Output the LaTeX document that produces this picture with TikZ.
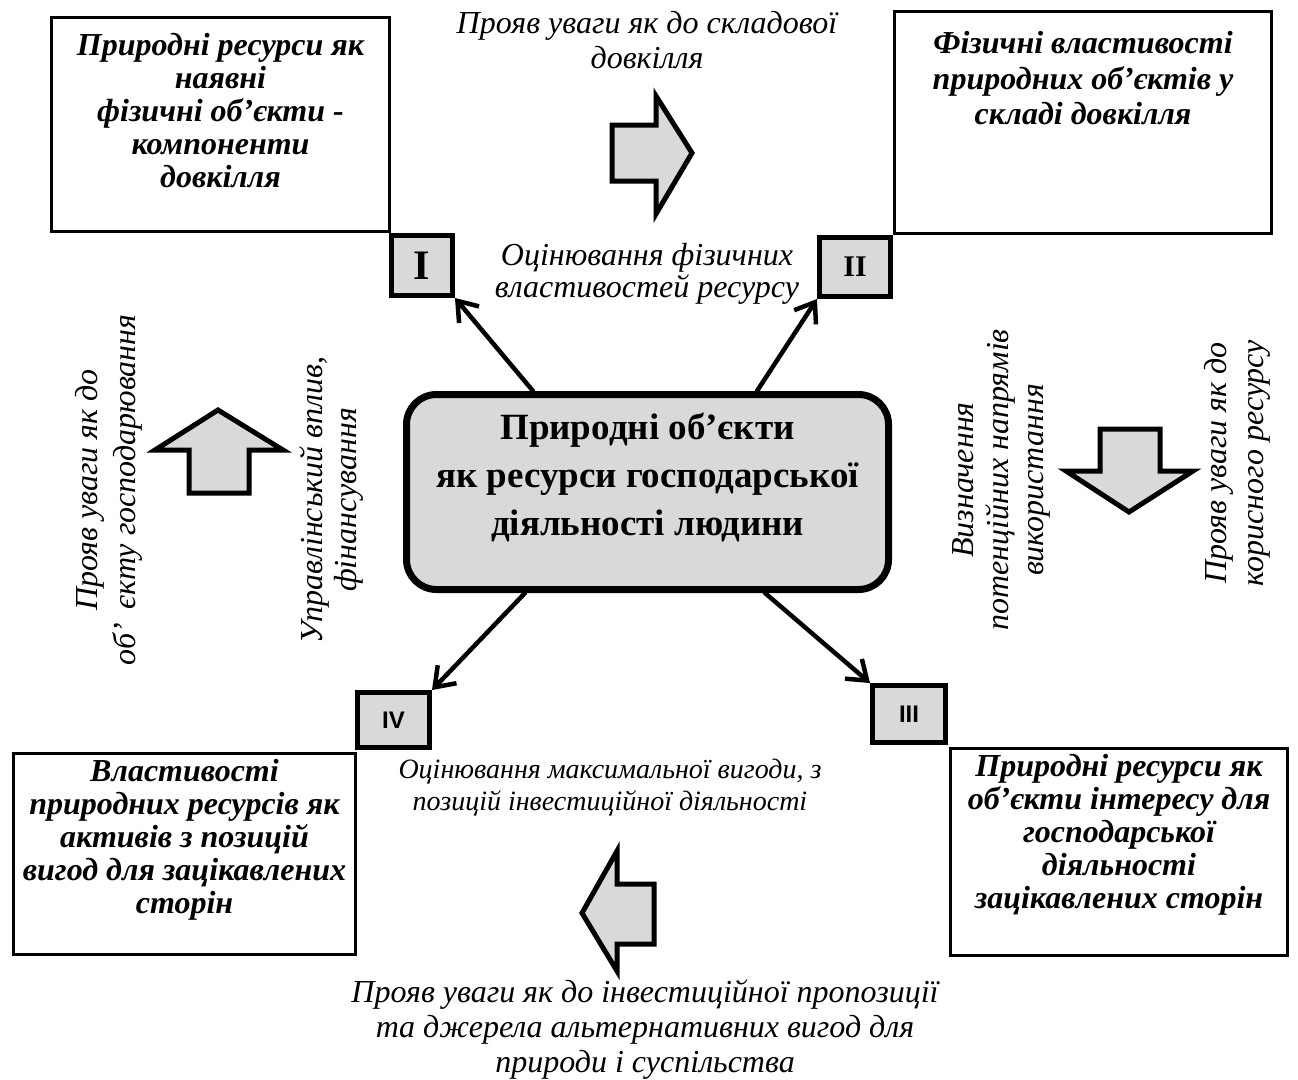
\documentclass[tikz,border=0pt]{standalone}
\usepackage{fontspec}
\setmainfont{Liberation Serif}
\newfontfamily\sansf{Liberation Sans}
\usetikzlibrary{arrows.meta}
\definecolor{boxgray}{HTML}{D9D9D9}
\newcommand\topbox[4]{\begin{minipage}[c][#2][t]{#1}\centering\vspace*{#3}#4\par\end{minipage}}
\begin{document}
\begin{tikzpicture}[x=1pt,y=-1pt,
  bigbox/.style={draw, line width=3pt, fill=white, inner sep=0pt, font=\fontsize{32}{33}\selectfont\bfseries\itshape},
  numbox/.style={draw, line width=5pt, fill=boxgray, inner sep=0pt},
  mainbox/.style={draw, line width=7pt, fill=boxgray, rounded corners=30pt, inner sep=0pt, font=\fontsize{37}{48}\selectfont\bfseries},
  note/.style={align=center, font=\fontsize{32}{35}\selectfont\itshape, inner sep=0pt},
  conn/.style={line width=4.5pt, -{Straight Barb[length=18pt,width=26pt]}, line cap=round},
  blockarrow/.style={draw, line width=5pt, fill=boxgray, line join=miter}]
\useasboundingbox[fill=white] (0,0) rectangle (1298,1079);

% main box
\node[mainbox, minimum width=482pt, minimum height=195pt] (c) at (647.5,492)
  {\topbox{470pt}{195pt}{19pt}{Природні об’єкти\\як ресурси господарської\\діяльності людини}};

% big boxes
\node[bigbox, minimum width=338pt, minimum height=214pt] (b1) at (220.5,124.5)
  {\topbox{330pt}{214pt}{16pt}{Природні ресурси як\\наявні\\фізичні об’єкти -\\компоненти\\довкілля}};
\node[bigbox, minimum width=377pt, minimum height=222pt, font=\fontsize{32}{35.5}\selectfont\bfseries\itshape] (b2) at (1083,122.5)
  {\topbox{365pt}{222pt}{20pt}{Фізичні властивості\\природних об’єктів у\\складі довкілля}};
\node[bigbox, minimum width=337pt, minimum height=207pt] (b3) at (1119,852)
  {\topbox{334pt}{207pt}{6pt}{Природні ресурси як\\об’єкти інтересу для\\господарської\\діяльності\\зацікавлених сторін}};
\node[bigbox, minimum width=342pt, minimum height=201pt] (b4) at (184.5,854)
  {\topbox{338pt}{201pt}{6pt}{Властивості\\природних ресурсів як\\активів з позицій\\вигод для зацікавлених\\сторін}};

% number boxes
\node[numbox, minimum width=61pt, minimum height=60pt, font=\fontsize{42}{42}\selectfont\bfseries] (s1) at (422,265.5) {I};
\node[numbox, minimum width=71pt, minimum height=59pt, font=\fontsize{30}{30}\selectfont\bfseries] (s2) at (855,267) {II};
\node[numbox, minimum width=73pt, minimum height=57pt, font=\sansf\fontsize{24}{24}\selectfont\bfseries] (s3) at (909,714) {III};
\node[numbox, minimum width=72pt, minimum height=55pt, font=\sansf\fontsize{24}{24}\selectfont\bfseries] (s4) at (393.5,720) {IV};

% connectors
\draw[conn] ([xshift=-114.5pt]c.north) -- (s1.south east);
\draw[conn] ([xshift=109.5pt]c.north) -- (s2.south west);
\draw[conn] ([xshift=117.5pt]c.south) -- (s3.north west);
\draw[conn] ([xshift=-122.5pt]c.south) -- (s4.north east);

% block arrows
\draw[blockarrow] (612,125) -- (656,125) -- (656,96) -- (692,153) -- (656,214) -- (656,181) -- (612,181) -- cycle;
\draw[blockarrow] (1100,429) -- (1160,429) -- (1160,471) -- (1193,471) -- (1129,512) -- (1066,471) -- (1100,471) -- cycle;
\draw[blockarrow] (654,884) -- (617,884) -- (617,851) -- (582,913) -- (617,971) -- (617,944) -- (654,944) -- cycle;
\draw[blockarrow] (189,493) -- (189,450) -- (155,450) -- (218,410) -- (283,450) -- (249,450) -- (249,493) -- cycle;

% notes
\node[note] (t1) at (647,40) {Прояв уваги як до складової\\довкілля};
\node[note, font=\fontsize{32}{32}\selectfont\itshape] (t2) at (647,274) {Оцінювання фізичних\\властивостей ресурсу};
\node[note, font=\fontsize{28}{32}\selectfont\itshape] (t3) at (610,788) {Оцінювання максимальної вигоди, з\\позицій інвестиційної діяльності};
\node[note] (t4) at (645,1030) {Прояв уваги як до інвестиційної пропозиції\\та джерела альтернативних вигод для\\природи і суспільства};
\node[note, rotate=90, font=\fontsize{32}{38}\selectfont\itshape] (r1) at (109,490) {Прояв уваги як до\\об’\hspace{14pt}єкту господарювання};
\node[note, rotate=90, font=\fontsize{32}{34}\selectfont\itshape] (r2) at (332,500) {Управлінський вплив,\\фінансування};
\node[note, rotate=90, font=\fontsize{32}{35}\selectfont\itshape] (r3) at (1001,480) {Визначення\\потенційних напрямів\\використання};
\node[note, rotate=90, font=\fontsize{32}{37}\selectfont\itshape] (r4) at (1237,463) {Прояв уваги як до\\корисного ресурсу};
\end{tikzpicture}
\end{document}
